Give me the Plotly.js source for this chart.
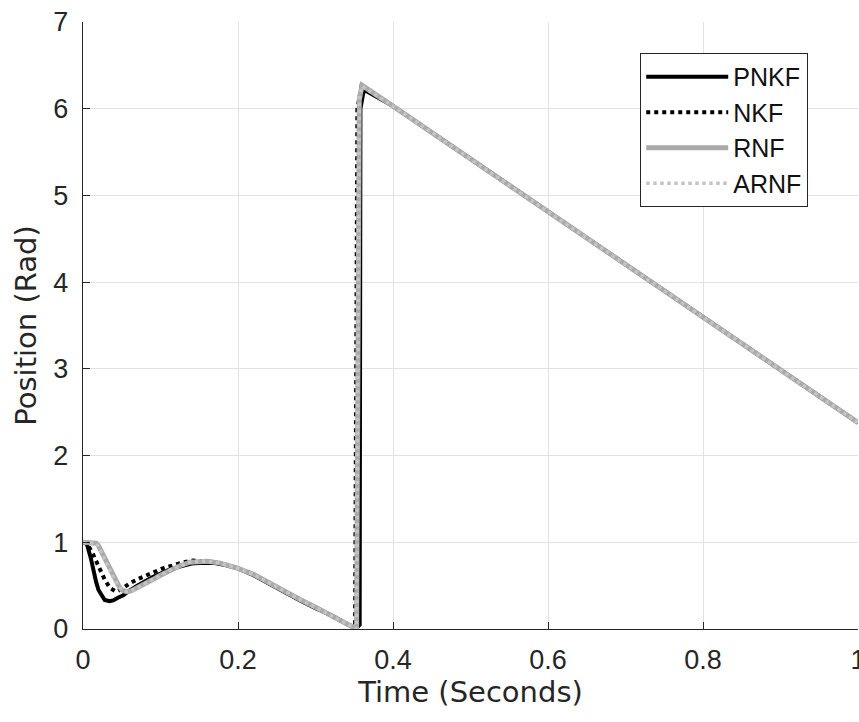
<!DOCTYPE html>
<html>
<head>
<meta charset="utf-8">
<script src="https://cdn.plot.ly/plotly-3.0.1.min.js"></script>
<style>html,body{margin:0;padding:0;background:#fff;}</style>
</head>
<body>
<div id="chart" style="width:859px;height:722px;"></div>
<script>
// ---- data ----
const seriesNames = ['PNKF', 'NKF', 'RNF', 'ARNF'];

// shared linear tail after the wrap (all four estimates overlap)
const tTail   = [0.40, 0.50, 0.60, 0.70, 0.80, 0.90, 1.00];
const posTail = [6.03, 5.42, 4.81, 4.21, 3.60, 2.99, 2.38];

const tPNKF = [0, 0.005, 0.010, 0.013, 0.017, 0.020, 0.024, 0.028, 0.034, 0.039, 0.045, 0.052, 0.058,
               0.070, 0.090, 0.110, 0.125, 0.140, 0.155, 0.170, 0.185, 0.200, 0.220, 0.240, 0.260,
               0.280, 0.300, 0.320, 0.340, 0.349, 0.353, 0.357, 0.358, 0.362, 0.366];
const pPNKF = [1.00, 0.98, 0.82, 0.68, 0.54, 0.45, 0.38, 0.335, 0.32, 0.33, 0.36, 0.39, 0.43,
               0.50, 0.60, 0.68, 0.72, 0.755, 0.765, 0.76, 0.735, 0.70, 0.62, 0.52, 0.43,
               0.33, 0.24, 0.16, 0.06, 0.02, 0.01, 0.05, 6.00, 6.20, 6.20];

const tNKF = [0, 0.005, 0.012, 0.017, 0.022, 0.028, 0.035, 0.043, 0.050, 0.061, 0.072, 0.082,
              0.092, 0.103, 0.115, 0.125, 0.142, 0.155, 0.168, 0.185, 0.200, 0.220, 0.240, 0.260,
              0.280, 0.300, 0.320, 0.340, 0.348, 0.351, 0.354, 0.3596];
const pNKF = [1.00, 0.99, 0.88, 0.78, 0.68, 0.57, 0.47, 0.43, 0.46, 0.53, 0.58, 0.62,
              0.66, 0.70, 0.73, 0.76, 0.79, 0.785, 0.775, 0.74, 0.70, 0.63, 0.53, 0.44,
              0.34, 0.25, 0.16, 0.06, 0.02, 0.00, 6.00, 6.27];

const tRNF = [0, 0.010, 0.017, 0.020, 0.025, 0.030, 0.036, 0.041, 0.046, 0.050, 0.056, 0.062,
              0.069, 0.080, 0.090, 0.100, 0.112, 0.125, 0.138, 0.150, 0.160, 0.177, 0.190,
              0.200, 0.220, 0.240, 0.260, 0.280, 0.300, 0.320, 0.340, 0.349, 0.353, 0.3565, 0.360];
const pRNF = [1.00, 1.00, 0.99, 0.96, 0.87, 0.76, 0.66, 0.57, 0.50, 0.45, 0.43, 0.44,
              0.47, 0.52, 0.57, 0.62, 0.68, 0.73, 0.77, 0.78, 0.78, 0.76, 0.73,
              0.70, 0.63, 0.53, 0.44, 0.34, 0.25, 0.16, 0.06, 0.02, 0.00, 6.10, 6.27];

const tARNF = [0, 0.010, 0.017, 0.020, 0.025, 0.030, 0.036, 0.041, 0.046, 0.050, 0.056, 0.062,
               0.069, 0.080, 0.090, 0.100, 0.112, 0.125, 0.138, 0.150, 0.160, 0.177, 0.190,
               0.200, 0.220, 0.240, 0.260, 0.280, 0.300, 0.320, 0.340, 0.349, 0.353, 0.3565, 0.360];
const pARNF = [1.00, 1.00, 0.99, 0.95, 0.86, 0.75, 0.65, 0.56, 0.50, 0.45, 0.43, 0.44,
               0.47, 0.52, 0.57, 0.62, 0.68, 0.73, 0.77, 0.78, 0.78, 0.76, 0.73,
               0.70, 0.63, 0.53, 0.44, 0.34, 0.25, 0.16, 0.06, 0.02, 0.00, 6.10, 6.26];

const xTickVals = [0, 0.2, 0.4, 0.6, 0.8, 1];
const xTickText = ['0', '0.2', '0.4', '0.6', '0.8', '1'];
const yTickVals = [0, 1, 2, 3, 4, 5, 6, 7];
const yTickText = ['0', '1', '2', '3', '4', '5', '6', '7'];

// ---- styles ----
const styles = [
  {color: '#000000', width: 4, dash: 'solid'},
  {color: '#000000', width: 4, dash: 'dot'},
  {color: '#aaaaaa', width: 5, dash: 'solid'},
  {color: '#c4c4c4', width: 3.5, dash: 'dot'}
];
const xs = [tPNKF, tNKF, tRNF, tARNF];
const ys = [pPNKF, pNKF, pRNF, pARNF];

const traces = seriesNames.map((name, i) => ({
  type: 'scatter', mode: 'lines', name: name,
  x: xs[i].concat(tTail), y: ys[i].concat(posTail),
  line: {color: styles[i].color, width: styles[i].width, dash: styles[i].dash},
  hoverinfo: 'skip'
}));

const axisCol = '#262626';
const tickFont = {family: 'Liberation Sans, Arial, sans-serif', size: 27, color: axisCol};
const titleFont = {family: 'DejaVu Sans, sans-serif', size: 29, color: axisCol};

const layout = {
  width: 859, height: 722,
  margin: {l: 83, r: 1, t: 22, b: 93},
  paper_bgcolor: '#ffffff', plot_bgcolor: '#ffffff',
  showlegend: true,
  xaxis: {
    range: [0, 1], tickvals: xTickVals, ticktext: xTickText,
    ticks: 'inside', ticklen: 7, tickwidth: 1, tickcolor: axisCol,
    showline: true, linecolor: axisCol, linewidth: 1.2,
    showgrid: true, gridcolor: '#e2e2e2', gridwidth: 1, zeroline: false,
    tickfont: tickFont, ticklabelstandoff: 6, ticklabeloverflow: 'allow',
    title: {text: 'Time (Seconds)', font: titleFont, standoff: 8},
    automargin: false, fixedrange: true
  },
  yaxis: {
    range: [0, 7], tickvals: yTickVals, ticktext: yTickText,
    ticks: 'inside', ticklen: 7, tickwidth: 1, tickcolor: axisCol,
    showline: true, linecolor: axisCol, linewidth: 1.2,
    showgrid: true, gridcolor: '#e2e2e2', gridwidth: 1, zeroline: false,
    tickfont: tickFont, ticklabelstandoff: 8, ticklabeloverflow: 'allow',
    title: {text: 'Position (Rad)', font: titleFont, standoff: 8},
    automargin: false, fixedrange: true
  },
  legend: {
    x: 0.719, y: 0.949, xanchor: 'left', yanchor: 'top',
    bgcolor: '#ffffff', bordercolor: axisCol, borderwidth: 1,
    font: {family: 'Liberation Sans, Arial, sans-serif', size: 25, color: '#111111'},
    itemwidth: 82, tracegroupgap: 0, traceorder: 'normal'
  }
};

Plotly.newPlot('chart', traces, layout, {staticPlot: true, displayModeBar: false});
</script>
</body>
</html>
